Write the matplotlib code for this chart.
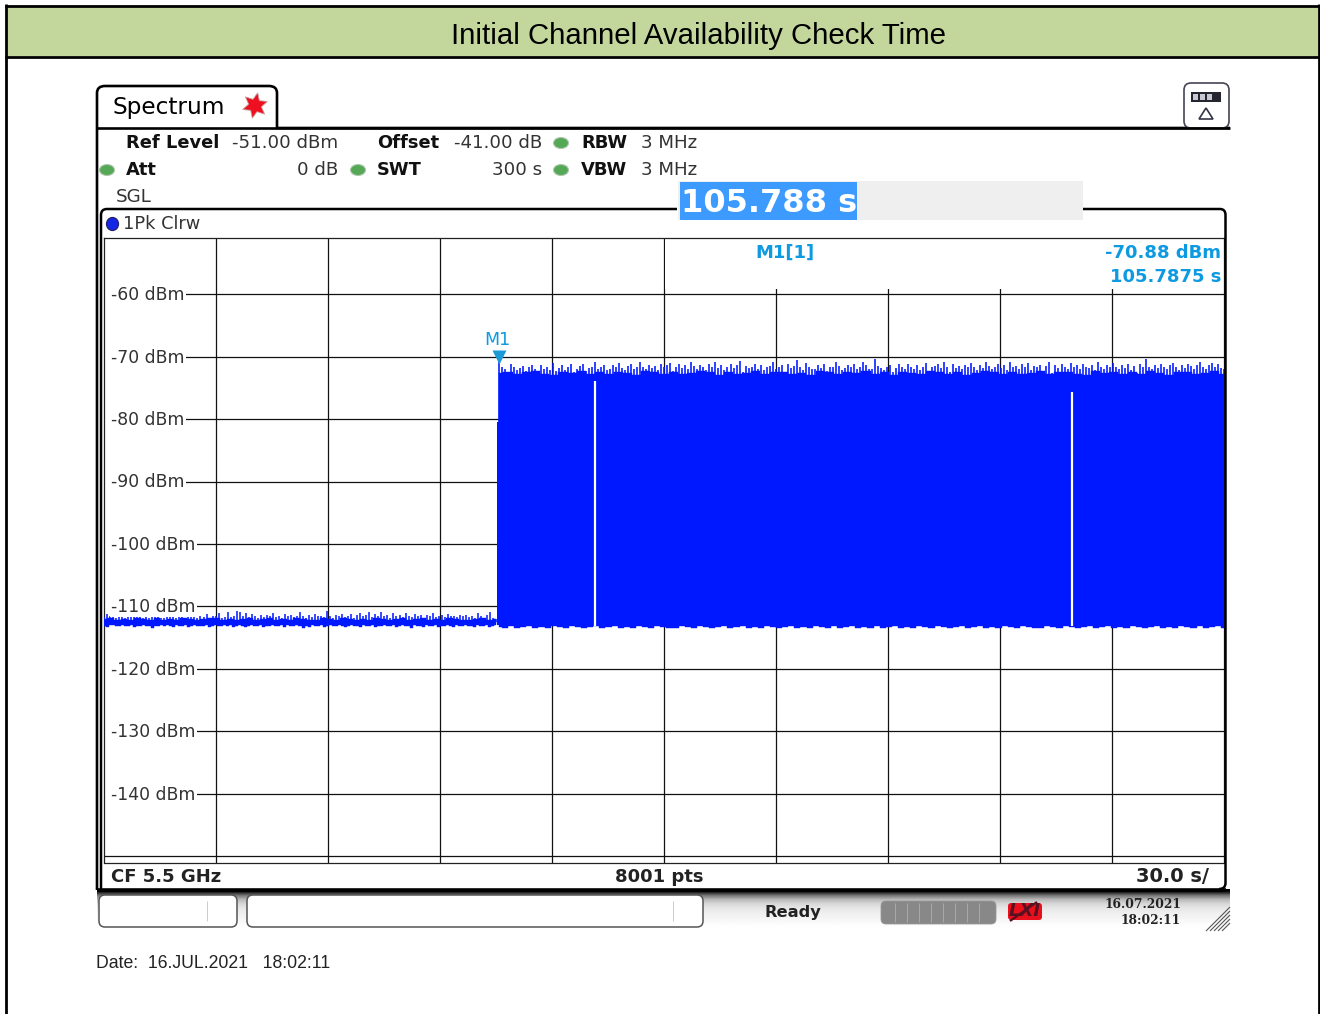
import numpy as np
import matplotlib
matplotlib.use("Agg")
import matplotlib.pyplot as plt
from matplotlib.patches import Rectangle, FancyBboxPatch, Ellipse, Polygon, PathPatch
from matplotlib.path import Path

# ---------- data ----------
title = "Initial Channel Availability Check Time"
level_ticks = [-60, -70, -80, -90, -100, -110, -120, -130, -140]
time_grid = [0, 30, 60, 90, 120, 150, 180, 210, 240, 270, 300]
y_top, y_bottom = -51.0, -151.0
off_spikes = [
 -111.7,-111.2,-111.6,-111.3,-111.9,-111.0,-111.5,-111.8,-111.1,-111.6,-111.0,-111.7,-111.2,-111.8,-111.4,-111.9,-111.7,-111.5,-111.3,-111.8,
 -111.8,-111.5,-111.7,-111.1,-111.8,-111.6,-111.3,-111.9,-111.5,-111.7,-111.2,-111.8,-111.6,-111.7,-111.2,-111.8,-111.6,-111.5,-111.0,-111.8,
 -111.7,-110.9,-111.7,-111.5,-110.8,-110.9,-111.6,-111.0,-111.7,-111.2,-111.5,-111.8,-111.4,-111.7,-111.3,-111.6,-111.1,-111.7,-111.5,-111.8,
 -111.2,-111.6,-111.3,-111.7,-111.5,-110.9,-111.6,-111.8,-111.3,-111.7,-111.2,-111.6,-111.5,-111.7,-110.8,-111.5,-111.8,-111.4,-111.6,-111.2,
 -111.7,-111.5,-111.2,-111.8,-111.4,-111.1,-111.6,-111.3,-110.9,-111.7,-111.2,-111.5,-110.9,-111.6,-111.3,-111.8,-111.0,-111.6,-111.3,-111.7,
 -111.1,-111.5,-111.7,-111.2,-111.6,-111.4,-111.8,-111.3,-111.6,-111.1,-111.7,-111.5,-111.3,-111.7,-111.2,-111.6,-111.5,-111.7,-111.4,-111.6,
 -111.3,-111.7,-111.5,-111.8,-111.1,-111.6,-111.8,-111.3,-110.9,-111.8,-112.0,
]
off_body = [
 -112.0,-111.9,-112.1,-112.0,-112.2,-111.9,-112.0,-112.1,-111.9,-112.2,-112.0,-112.1,-111.9,-112.0,-112.2,-112.0,-111.8,-111.9,-112.1,-112.0,
 -112.2,-112.0,-111.9,-112.1,-112.0,-111.9,-112.2,-112.0,-112.1,-111.9,-112.0,-112.1,-112.2,-111.9,-112.0,-112.1,-111.9,-112.0,-112.2,-112.0,
 -112.1,-111.9,-112.0,-112.2,-112.0,-111.9,-112.1,-112.0,-111.9,-112.2,-112.0,-112.1,-111.9,-112.0,-112.1,-112.2,-112.0,-111.9,-112.1,-112.0,
]
off_lower = [
 -113.1,-113.3,-113.0,-112.9,-113.1,-113.2,-113.0,-113.2,-113.1,-113.0,-113.3,-113.1,-113.2,-113.0,-113.2,-113.1,-113.4,-113.2,-113.1,-113.0,
 -113.2,-113.0,-113.1,-113.3,-113.0,-113.2,-113.1,-113.0,-113.3,-113.1,-113.0,-113.2,-113.1,-113.2,-113.0,-113.3,-113.1,-113.0,-113.2,-113.1,
 -113.0,-113.2,-113.0,-113.3,-113.1,-113.0,-113.2,-113.3,-113.1,-113.0,-113.2,-113.1,-113.0,-113.3,-113.1,-113.2,-113.0,-113.1,-113.2,-113.0,
 -113.3,-113.0,-113.2,-113.1,-113.0,-113.2,-113.4,-113.1,-113.3,-113.0,-113.1,-113.2,-113.0,-113.3,-113.1,-113.0,-113.2,-113.1,-113.0,-113.2,
 -113.3,-113.1,-113.0,-113.2,-113.1,-113.3,-113.0,-113.2,-113.1,-113.0,-113.3,-113.1,-113.2,-113.0,-113.1,-113.2,-113.0,-113.3,-113.1,-113.0,
 -113.2,-113.1,-113.4,-113.0,-113.2,-113.1,-113.3,-113.0,-113.1,-113.2,-113.0,-113.3,-113.1,-113.2,-113.0,-113.1,-113.3,-113.0,-113.2,-113.1,
 -113.0,-113.2,-113.1,-113.3,-113.0,-113.1,-113.2,-113.0,-113.3,-113.1,-113.0,
]
edge_time, edge_level = 105.45, -80.4
on_spikes = [
 -70.6,-71.6,-71.9,-72.9,-71.2,-71.7,-72.1,-71.8,-71.5,-72.3,-71.7,-71.3,-72.0,-72.5,-71.4,-71.9,-71.6,-72.2,-71.0,-72.3,
 -71.8,-71.4,-72.1,-71.7,-71.2,-72.4,-71.9,-71.5,-71.1,-72.3,-71.8,-71.6,-70.9,-72.0,-71.7,-71.4,-72.1,-71.9,-71.3,-71.7,
 -71.0,-71.8,-72.2,-71.5,-71.2,-71.9,-71.7,-70.8,-71.6,-72.0,-71.3,-71.8,-71.5,-72.1,-71.2,-71.7,-71.4,-71.0,-72.3,-71.6,
 -71.1,-71.8,-71.4,-72.0,-70.8,-71.5,-71.9,-71.3,-71.7,-72.2,-71.2,-71.6,-70.9,-71.8,-71.4,-72.1,-71.6,-71.1,-71.8,-71.3,
 -70.7,-72.4,-71.5,-71.8,-71.6,-71.2,-71.9,-71.4,-72.2,-71.7,-71.5,-70.9,-72.0,-71.6,-71.3,-72.7,-71.2,-71.8,-71.5,-70.5,
 -71.6,-72.1,-71.0,-71.7,-71.9,-72.0,-71.4,-71.8,-71.2,-72.3,-71.6,-71.7,-70.9,-71.5,-72.2,-71.8,-71.3,-71.7,-71.1,-72.0,
 -71.6,-70.8,-71.4,-71.9,-72.0,-70.3,-71.5,-71.8,-72.2,-71.6,-71.3,-72.4,-71.8,-71.2,-71.6,-71.9,-71.1,-71.7,-72.0,-71.4,
 -72.1,-71.6,-71.0,-72.4,-71.7,-71.5,-71.2,-71.8,-70.8,-71.6,-72.5,-71.1,-71.8,-71.5,-72.0,-71.3,-71.7,-71.0,-71.6,-72.2,
 -71.4,-71.8,-70.9,-71.5,-72.0,-71.6,-71.2,-71.8,-71.4,-72.2,-70.9,-71.7,-71.5,-71.9,-71.2,-71.6,-71.0,-72.1,-71.5,-71.7,
 -71.3,-72.7,-71.5,-70.9,-72.6,-71.4,-71.8,-71.2,-71.6,-71.9,-71.0,-71.7,-71.4,-72.0,-71.1,-71.6,-71.8,-71.3,-72.1,-70.9,
 -71.6,-71.9,-71.3,-71.7,-71.0,-71.6,-72.0,-71.4,-71.8,-71.1,-72.1,-71.5,-72.6,-71.2,-71.7,-70.4,-71.6,-72.0,-71.4,-71.8,
 -71.1,-71.6,-71.9,-71.3,-71.0,-71.7,-72.1,-71.4,-71.8,-71.1,-71.5,-71.9,-71.3,-70.9,-71.7,-72.0,-71.4,-71.0,-71.6,-71.2,
 -71.8,-72.0,
]
on_body = [
 -72.6,-72.4,-72.8,-72.5,-72.3,-72.7,-72.9,-72.4,-72.6,-72.3,-72.8,-72.5,-72.7,-72.4,-72.6,-72.9,-72.3,-72.5,-72.7,-72.4,
 -72.8,-72.6,-72.3,-72.5,-72.9,-72.4,-72.7,-72.6,-72.3,-72.8,-72.5,-72.4,-72.7,-72.6,-72.9,-72.3,-72.5,-72.8,-72.4,-72.6,
 -72.3,-72.7,-72.5,-72.9,-72.4,-72.6,-72.8,-72.3,-72.5,-72.7,-72.4,-72.9,-72.6,-72.3,-72.5,-72.8,-72.4,-72.7,-72.6,-72.3,
 -72.8,-72.5,-72.4,-72.7,-72.9,-72.3,-72.6,-72.5,-72.8,-72.4,-72.7,-72.3,-72.6,-72.9,-72.5,-72.4,-72.8,-72.6,-72.3,-72.7,
]
on_lower = [
 -113.3,-113.4,-113.2,-113.5,-113.3,-113.2,-113.4,-113.3,-113.5,-113.2,-113.3,-113.4,-113.2,-113.3,-113.5,-113.3,-113.2,-113.4,-113.3,-113.2,
 -113.4,-113.3,-113.5,-113.2,-113.3,-113.4,-113.2,-113.3,-113.4,-113.5,-113.2,-113.3,-113.4,-113.2,-113.3,-113.5,-113.3,-113.2,-113.4,-113.3,
 -113.2,-113.4,-113.3,-113.5,-113.2,-113.3,-113.4,-113.3,-113.2,-113.5,-113.3,-113.4,-113.2,-113.3,-113.4,-113.2,-113.5,-113.3,-113.2,-113.4,
 -113.3,-113.4,-113.2,-113.5,-113.3,-113.2,-113.4,-113.3,-113.5,-113.2,-113.3,-113.4,-113.2,-113.3,-113.5,-113.3,-113.2,-113.4,-113.3,-113.2,
 -113.4,-113.3,-113.5,-113.2,-113.3,-113.4,-113.2,-113.3,-113.4,-113.5,-113.2,-113.3,-113.4,-113.2,-113.3,-113.5,-113.3,-113.2,-113.4,-113.3,
 -113.2,-113.4,-113.3,-113.5,-113.2,-113.3,-113.4,-113.3,-113.2,-113.5,-113.3,-113.4,-113.2,-113.3,-113.4,-113.2,-113.5,-113.3,-113.2,-113.4,
]
body_split = -100.0
gap_times = [131.6, 259.3]
gap_tops = [-73.9, -75.7]
marker_time, marker_level = 105.7875, -70.88

# ---------- figure ----------
W, H = 1320, 1014
fig = plt.figure(figsize=(W / 100, H / 100), dpi=100, facecolor="white")

PX_PT = 0.72
def fs(px):
    return px * PX_PT

# data axes
L, R, T, B = 104, 1224, 238, 862.5
ax = fig.add_axes([L / W, 1 - B / H, (R - L) / W, (B - T) / H], zorder=2)
ax.set_xlim(time_grid[0], time_grid[-1])
ax.set_ylim(y_bottom, y_top)
ax.set_xticks([]); ax.set_yticks([])
for s in ax.spines.values():
    s.set_linewidth(0.9); s.set_color("#222222")

for t in time_grid[1:-1]:
    ax.axvline(t, color="#111111", lw=0.9, zorder=1)
for lv in level_ticks + [-150]:
    ax.axhline(lv, color="#111111", lw=0.9, zorder=1)

# mask behind the marker read-out
ax.add_patch(Rectangle((150.4, -59.2), 149.2, 8.0, fc="white", ec="none", zorder=1.5))

TRACE = "#0018ff"
t_off = np.linspace(0, 105.0, len(off_lower))
t_off_body = np.linspace(0, 105.0, len(off_body))
ax.fill_between(t_off_body, -112.6, off_body, step="mid", color=TRACE, lw=0.3, zorder=3)
ax.fill_between(t_off, off_lower, -112.5, step="mid", color=TRACE, lw=0.3, zorder=3)
ax.vlines(np.linspace(0, 105.0, len(off_spikes)), -112.5, off_spikes, color=TRACE, lw=1.1, zorder=3)
ax.fill_between([edge_time - 0.3, edge_time + 0.6], [off_lower[-1]] * 2, [edge_level] * 2, color=TRACE, lw=0, zorder=3)

t_on = np.linspace(105.75, 300, len(on_spikes))
t_body = np.linspace(105.75, 300, len(on_body))
t_low = np.linspace(105.75, 300, len(on_lower))
ax.fill_between(t_body, body_split, on_body, step="mid", color=TRACE, lw=0.3, zorder=3)
ax.vlines(t_on, body_split, on_spikes, color=TRACE, lw=1.15, zorder=3)
ax.fill_between(t_low, on_lower, body_split + 0.5, step="mid", color=TRACE, lw=0.3, zorder=3)
for gt, gtop in zip(gap_times, gap_tops):
    ax.vlines(gt, -113.2, gtop, color="white", lw=1.6, zorder=4)

for lv in level_ticks:
    ax.add_patch(Rectangle((0.15, lv - 1.3), 1.9, 2.6, fc="white", ec="none", zorder=2))
    ax.text(1.9, lv - 0.15, f"{lv} dBm", ha="left", va="center", fontsize=fs(17.2), color="#333333",
            family="DejaVu Sans", zorder=5, bbox=dict(fc="white", ec="none", pad=0.8))

BLUE_TXT = "#0d9ae0"
ax.plot([marker_time], [marker_level + 0.85], marker="v", ms=9.5, color="#1d9ad6", mec="none", zorder=6, clip_on=False)
ax.text(marker_time - 0.3, -67.35, "M1", ha="center", va="center", fontsize=fs(17.5), color=BLUE_TXT, zorder=6,
        family="DejaVu Sans")

# chrome axes in pixel coordinates
cx = fig.add_axes([0, 0, 1, 1], zorder=3)
cx.set_xlim(0, W); cx.set_ylim(H, 0); cx.axis("off"); cx.patch.set_alpha(0)

def line(xs, ys, lw=1.0, c="black", **k):
    cx.plot(xs, ys, color=c, lw=lw, solid_capstyle="butt", **k)

# page frame and title band
cx.add_patch(Rectangle((7, 7), 1311, 49, fc="#c3d69b", ec="none"))
line([6, 6], [4, H], 2.0)
line([1319, 1319], [4, H], 2.0)
line([5, 1320], [6, 6], 2.0)
line([5, 1320], [57, 57], 2.0)
cx.text(698.5, 35.5, title, ha="center", va="center", fontsize=fs(29.4), family="Liberation Sans", color="black")

# tab
verts = [(97, 890), (97, 93), (97, 86), (105, 86), (269, 86), (277, 86), (277, 93), (277, 128), (1230, 128)]
codes = [Path.MOVETO, Path.LINETO, Path.CURVE3, Path.CURVE3, Path.LINETO, Path.CURVE3, Path.CURVE3, Path.LINETO, Path.LINETO]
cx.add_patch(PathPatch(Path(verts, codes), fc="none", ec="black", lw=1.9))
cx.text(112, 107.5, "Spectrum", ha="left", va="center", fontsize=fs(23.2), family="DejaVu Sans", color="black")

# star
ang = np.deg2rad(np.arange(0, 360, 360 / 12) + 12)
rad = np.where(np.arange(12) % 2 == 0, 13.0, 6.5)
cx.add_patch(Polygon(np.c_[255 + rad * np.sin(ang), 105.5 - rad * np.cos(ang)], fc="#ee1020", ec="#c8a0a0", lw=0.6))

# icon top right
cx.add_patch(FancyBboxPatch((1184, 83), 45, 45, boxstyle="round,pad=0,rounding_size=7", fc="white", ec="#444455", lw=1.2))
cx.add_patch(Rectangle((1191, 92), 30, 10, fc="#25252f", ec="none"))
for xx in (1193, 1200, 1207):
    cx.add_patch(Rectangle((xx, 94), 5, 6, fc="#c8c8d0", ec="none"))
cx.add_patch(Polygon([(1206, 108), (1199, 119), (1213, 119)], fc="white", ec="#333344", lw=1.2))
line([97, 1230], [128, 128], 1.9)

# settings block
TXT = "#333333"
def head(x, y, s):
    cx.text(x, y, s, ha="left", va="center", fontsize=fs(17.9), weight="bold", family="DejaVu Sans", color="#111111")
def val(x, y, s, ha="right"):
    cx.text(x, y, s, ha=ha, va="center", fontsize=fs(18.3), family="DejaVu Sans", color=TXT)

head(126, 143, "Ref Level"); val(338, 143, "-51.00 dBm")
head(377, 143, "Offset");    val(542, 143, "-41.00 dB")
head(581, 143, "RBW");       val(641, 143, "3 MHz", "left")
head(126, 170, "Att");       val(338, 170, "0 dB")
head(377, 170, "SWT");       val(542, 170, "300 s")
head(581, 170, "VBW");       val(641, 170, "3 MHz", "left")
val(116, 197, "SGL", "left")
for ex, ey in [(561, 143), (107, 170), (358, 170), (561, 170)]:
    cx.add_patch(Ellipse((ex, ey), 15, 11, fc="#55a855", ec="#b0c8b0", lw=0.8))

# plot frame
verts = [(101, 889), (101, 215), (101, 209), (107, 209), (677, 209)]
codes = [Path.MOVETO, Path.LINETO, Path.CURVE3, Path.CURVE3, Path.LINETO]
cx.add_patch(PathPatch(Path(verts, codes), fc="none", ec="black", lw=1.8))
verts = [(1083, 209), (1220, 209), (1225.5, 209), (1225.5, 215), (1225.5, 883), (1225.5, 889), (1219, 889)]
codes = [Path.MOVETO, Path.LINETO, Path.CURVE3, Path.CURVE3, Path.LINETO, Path.CURVE3, Path.CURVE3]
cx.add_patch(PathPatch(Path(verts, codes), fc="none", ec="black", lw=1.8))
cx.add_patch(Ellipse((112.5, 224), 12, 13, fc="#1525e8", ec="#222266", lw=0.9))
cx.text(123, 224, "1Pk Clrw", ha="left", va="center", fontsize=fs(17.7), family="DejaVu Sans", color=TXT)

# highlighted entry
cx.add_patch(Rectangle((678, 181), 405, 39, fc="#efefef", ec="none", zorder=5))
cx.add_patch(Rectangle((680, 182), 177, 38, fc="#3d9bff", ec="none", zorder=6))
cx.text(681, 204, "105.788 s", ha="left", va="center", fontsize=fs(32), weight="bold", family="DejaVu Sans", color="white", zorder=7)

# marker read-out
cx.text(785, 253, "M1[1]", ha="center", va="center", fontsize=fs(18), family="DejaVu Sans", color=BLUE_TXT, weight="bold")
cx.text(1221, 253, "-70.88 dBm", ha="right", va="center", fontsize=fs(18), family="DejaVu Sans", color=BLUE_TXT, weight="bold")
cx.text(1221, 277, "105.7875 s", ha="right", va="center", fontsize=fs(18), family="DejaVu Sans", color=BLUE_TXT, weight="bold")

# footer of plot
cx.text(111, 877, "CF 5.5 GHz", ha="left", va="center", fontsize=fs(18), weight="bold", family="DejaVu Sans", color="#222222")
cx.text(659.5, 877, "8001 pts", ha="center", va="center", fontsize=fs(18), weight="bold", family="DejaVu Sans", color="#222222")
cx.text(1209, 877, "30.0 s/", ha="right", va="center", fontsize=fs(19.5), weight="bold", family="DejaVu Sans", color="#222222")

# status bar
grad = np.array([0.0, 0.45, 0.72, 0.84, 0.90, 0.93, 0.95, 0.97, 0.99, 1.0])[:, None]
cx.imshow(grad, extent=(97, 1230, 931, 889), cmap="gray", vmin=0, vmax=1, aspect="auto", interpolation="bilinear", zorder=1)
cx.set_xlim(0, W); cx.set_ylim(H, 0)
line([97, 1226], [890, 890], 2.6)
cx.add_patch(FancyBboxPatch((99, 895), 138, 32, boxstyle="round,pad=0,rounding_size=6", fc="white", ec="#555555", lw=1.1, zorder=2))
cx.add_patch(FancyBboxPatch((247, 895), 456, 32, boxstyle="round,pad=0,rounding_size=6", fc="white", ec="#555555", lw=1.1, zorder=2))
line([207, 207], [901, 921], 0.7, c="#cccccc", zorder=3)
line([673, 673], [901, 921], 0.7, c="#cccccc", zorder=3)
cx.text(793, 912, "Ready", ha="center", va="center", fontsize=fs(16.2), weight="bold", family="DejaVu Sans", color="#222222", zorder=3)
cx.add_patch(FancyBboxPatch((881, 901), 115, 23, boxstyle="round,pad=0,rounding_size=5", fc="#888888", ec="#999999", lw=0.6, zorder=2))
for xx in range(894, 990, 12):
    line([xx + 0.5, xx + 0.5], [903, 922], 0.7, c="#aaaaaa", zorder=3)
cx.add_patch(FancyBboxPatch((1008, 903), 34, 17, boxstyle="round,pad=0,rounding_size=3", fc="#e8101c", ec="none", zorder=2))
cx.text(1025, 911, "LXI", ha="center", va="center", fontsize=fs(18), weight="bold", style="italic", family="DejaVu Sans", color="#5a1020", zorder=3)
line([1010, 1037], [921, 902], 1.6, c="#5a1020", zorder=3)
cx.text(1181, 905, "16.07.2021", ha="right", va="center", fontsize=fs(12.2), weight="bold", family="DejaVu Serif", color="#222222", zorder=3)
cx.text(1181, 921, "18:02:11", ha="right", va="center", fontsize=fs(12.2), weight="bold", family="DejaVu Serif", color="#222222", zorder=3)
for k in range(5):
    line([1206 + k * 4, 1230], [931, 907 + k * 4], 0.8, c="#555555", zorder=3)

cx.text(96, 964, "Date:  16.JUL.2021   18:02:11", ha="left", va="center", fontsize=fs(17.6), family="Liberation Sans", color="#222222")

fig.savefig("out.png", dpi=100)
